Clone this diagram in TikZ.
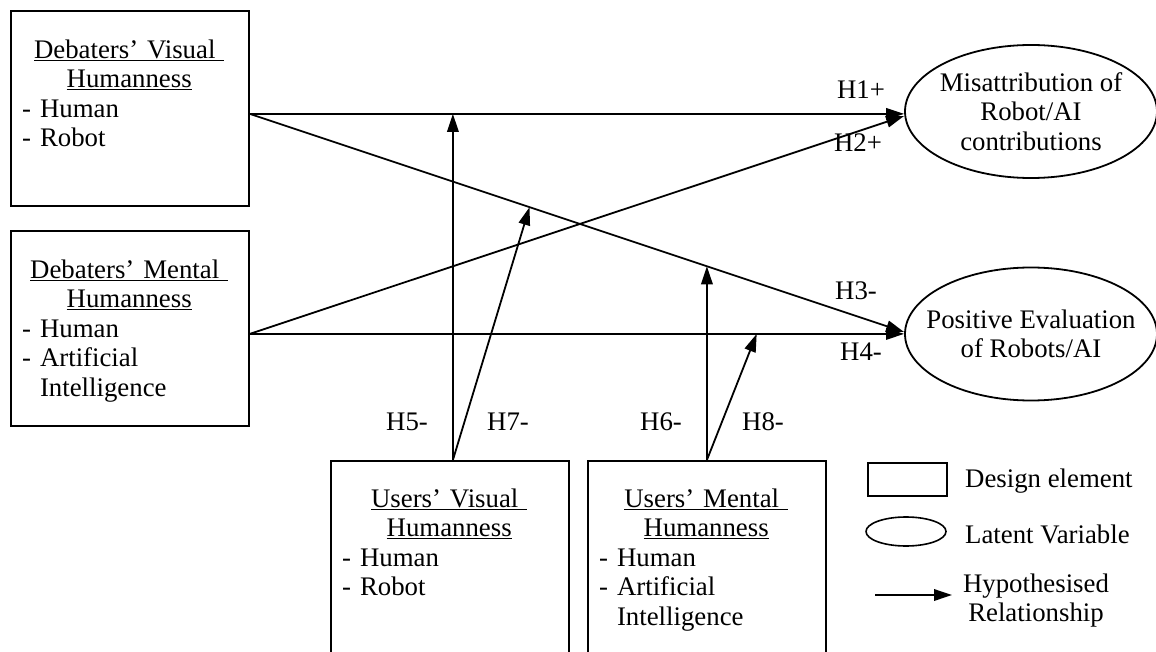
\documentclass[tikz,border=0pt]{standalone}
\usepackage{fontspec}
\setmainfont{Liberation Serif}
\usetikzlibrary{arrows.meta,shapes.geometric,calc}
\setlength{\parindent}{0pt}
\begin{document}
\begin{tikzpicture}[x=1pt,y=-1pt,
  txt/.style={font=\fontsize{26.8pt}{29.5pt}\selectfont, inner sep=0pt},
  box/.style={draw, line width=1.8pt, rectangle, inner sep=0pt, anchor=north west, minimum width=238pt},
  boxtext/.style={txt, anchor=north west, text width=214pt},
  latent/.style={draw, line width=1.8pt, ellipse, inner sep=0pt, minimum width=252pt, minimum height=133pt},
  rel/.style={line width=1.8pt, -{Triangle[length=18pt,width=11.5pt]}},
  hlabel/.style={txt, anchor=base},
]
\useasboundingbox (0,0) rectangle (1156,652);
\clip (0,0) rectangle (1156,652);

% design elements
\node[box, minimum height=195pt] (b1) at (10,10) {};
\node[box, minimum height=195pt] (b2) at (10,230) {};
\node[box, minimum height=230pt] (b3) at (330,460) {};
\node[box, minimum height=230pt] (b4) at (587,460) {};

\node[boxtext] (t1) at ([xshift=12pt,yshift=-29.7pt]b1.north west)
  {{\centering\underline{Debaters’ Visual\ }\\\underline{Humanness}\par}\raggedright - Human\\- Robot};
\node[boxtext] (t2) at ([xshift=12pt,yshift=-29.7pt]b2.north west)
  {{\centering\underline{Debaters’ Mental\ }\\\underline{Humanness}\par}\raggedright - Human\\- Artificial\\\hphantom{- }Intelligence};
\node[boxtext] (t3) at ([xshift=12pt,yshift=-28.7pt]b3.north west)
  {{\centering\underline{Users’ Visual\ }\\\underline{Humanness}\par}\raggedright - Human\\- Robot};
\node[boxtext] (t4) at ([xshift=12pt,yshift=-28.7pt]b4.north west)
  {{\centering\underline{Users’ Mental\ }\\\underline{Humanness}\par}\raggedright - Human\\- Artificial\\\hphantom{- }Intelligence};

% latent variables
\node[latent] (e1) at (1031,111.5) {};
\node[latent] (e2) at (1031,334) {};
\node[txt, align=center] (e1t) at (e1.center) {Misattribution of\\Robot/AI\\contributions};
\node[txt, align=center] (e2t) at (e2.center) {Positive Evaluation\\of Robots/AI};

% connector ends
\coordinate (d1) at ([yshift=-5.5pt]b1.east);
\coordinate (d2) at ([yshift=-5.5pt]b2.east);
\coordinate (u1) at ([xshift=3pt]b3.north);
\coordinate (u2) at (b4.north);
\coordinate (h2e) at ([yshift=-4.5pt]e1.west);
\coordinate (h3e) at ([yshift=2pt]e2.west);

% main effects
\draw[rel] (d1) -- (d1 -| e1.west);
\draw[rel] (d2) -- (h2e);
\draw[rel] (d1) -- coordinate[pos=0.4275] (m7) (h3e);
\draw[rel] (d2) -- coordinate[pos=0.7747] (m8) (d2 -| e2.west);

% moderations
\draw[rel] (u1) -- (u1 |- d1);
\draw[rel] (u1) -- (m7);
\draw[rel] (u2) -- (intersection of d1--h3e and u2--b4.center);
\draw[rel] (u2) -- (m8);

% hypothesis labels
\node[hlabel] (h1) at (861,99) {H1+};
\node[hlabel] (h2) at (858,152) {H2+};
\node[hlabel] (h3) at (856,299) {H3-};
\node[hlabel] (h4) at (861,360) {H4-};
\node[hlabel] (h5) at (407,430) {H5-};
\node[hlabel] (h7) at (508,430) {H7-};
\node[hlabel] (h6) at (661,430) {H6-};
\node[hlabel] (h8) at (763,430) {H8-};

% legend
\node[draw, line width=1.6pt, inner sep=0pt, minimum width=79pt, minimum height=33pt, anchor=north west] (lbox) at (867,462) {};
\node[draw, ellipse, line width=1.6pt, inner sep=0pt, minimum width=80pt, minimum height=29pt] (lell) at (906,531.5) {};
\coordinate (la) at (875,595);
\coordinate (lb) at (952,595);
\draw[rel] (la) -- (lb);
\node[txt, anchor=base west] (lt1) at (965,487) {Design element};
\node[txt, anchor=base west] (lt2) at (965,543) {Latent Variable};
\node[txt, anchor=north, align=center] (lt3) at (1036,573.7) {Hypothesised\\Relationship};
\end{tikzpicture}
\end{document}
